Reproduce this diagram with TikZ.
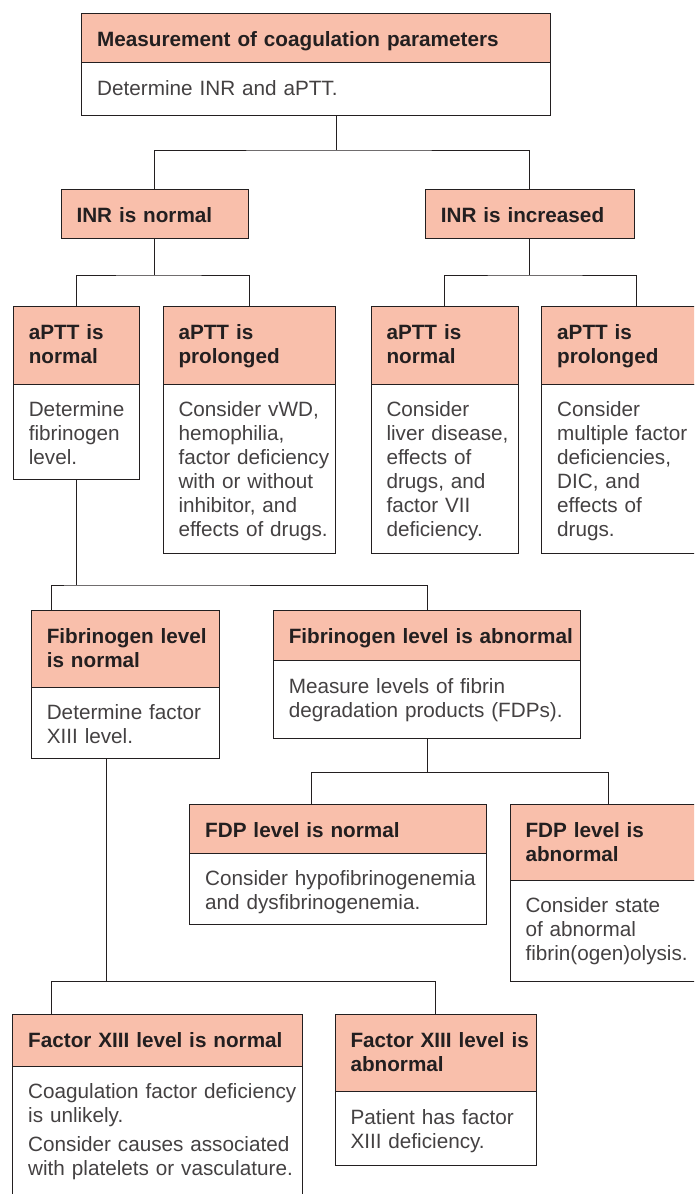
\documentclass[tikz,border=0pt]{standalone}
\usepackage{fontspec}
\setmainfont{Liberation Sans}
\usepackage{xcolor}
\usepackage{tikz}
\usetikzlibrary{positioning}
\definecolor{headfill}{RGB}{249,191,171}
\definecolor{ink}{RGB}{35,31,32}
\tikzstyle{box} = [draw=ink, line width=0.9pt, rectangle, inner sep=0pt, outer sep=0pt, align=left, execute at begin node={\leftskip=15.5pt}]
\tikzstyle{head} = [box, fill=headfill, text=ink, text height=33pt, font=\fontsize{20.7}{24}\selectfont\bfseries]
\tikzstyle{body} = [box, fill=white, text=ink!85, text height=32.5pt, font=\fontsize{20.7}{24}\selectfont]
\tikzstyle{link} = [draw=ink, line width=0.9pt]

\begin{document}
\begin{tikzpicture}[x=1pt,y=-1pt]
	\useasboundingbox (0,0) rectangle (694,1194);
	\clip (0,0) rectangle (694,1194);

	\node [head, anchor=north west, text width=468.6pt, text depth=16.4pt] (coag) at (81.7,13.3) {Measurement of coagulation parameters};
	\node [body, below=0pt of coag, text width=468.6pt, text depth=20.5pt] (coagtext) {Determine INR and aPTT.};

	\node [head, anchor=north west, text width=187.3pt, text depth=16.7pt] (inrnormal) at (61,189) {INR is normal};
	\node [head, anchor=north west, text width=208.7pt, text depth=16.7pt] (inrhigh) at (425.3,189) {INR is increased};

	\node [head, anchor=north west, text width=125.7pt, text depth=44.3pt] (ptta) at (13.3,306.7) {aPTT is\\normal};
	\node [body, below=0pt of ptta, text width=125.7pt, text depth=62.5pt] (pttatext) {Determine\\fibrinogen\\level.};
	\node [head, anchor=north west, text width=172.3pt, text depth=44.3pt] (pttb) at (163,306.7) {aPTT is\\prolonged};
	\node [body, below=0pt of pttb, text width=172.3pt, text depth=136.8pt] (pttbtext) {Consider vWD,\\hemophilia,\\factor deficiency\\with or without\\inhibitor, and\\effects of drugs.};
	\node [head, anchor=north west, text width=147.3pt, text depth=44.3pt] (pttc) at (371,306.7) {aPTT is\\normal};
	\node [body, below=0pt of pttc, text width=147.3pt, text depth=136.8pt] (pttctext) {Consider\\liver disease,\\effects of\\drugs, and\\factor VII\\deficiency.};
	\node [head, anchor=north west, text width=189pt, text depth=44.3pt] (pttd) at (541.7,306.7) {aPTT is\\prolonged};
	\node [body, below=0pt of pttd, text width=189pt, text depth=136.8pt] (pttdtext) {Consider\\multiple factor\\deficiencies,\\DIC, and\\effects of\\drugs.};

	\node [head, anchor=north west, text width=187.7pt, text depth=44.3pt] (fibnormal) at (31.3,610) {Fibrinogen level\\is normal};
	\node [body, below=0pt of fibnormal, text width=187.7pt, text depth=38.2pt] (fibnormaltext) {Determine factor\\XIII level.};
	\node [head, anchor=north west, text width=307.4pt, text depth=17.7pt] (fibabnormal) at (273.3,610) {Fibrinogen level is abnormal};
	\node [body, below=0pt of fibabnormal, text width=307.4pt, text depth=44.8pt] (fibabnormaltext) {Measure levels of fibrin\\degradation products (FDPs).};

	\node [head, anchor=north west, text width=297pt, text depth=15.6pt] (fdpnormal) at (189.7,804.7) {FDP level is normal};
	\node [body, below=0pt of fdpnormal, text width=297pt, text depth=38.9pt] (fdpnormaltext) {Consider hypofibrinogenemia\\and dysfibrinogenemia.};
	\node [head, anchor=north west, text width=196.6pt, text depth=42.3pt] (fdpabnormal) at (510,804.7) {FDP level is\\abnormal};
	\node [body, below=0pt of fdpabnormal, text width=196.6pt, text depth=69.2pt] (fdpabnormaltext) {Consider state\\of abnormal\\fibrin(ogen)olysis.};

	\node [head, anchor=north west, text width=289.6pt, text depth=19pt] (fxnormal) at (12.7,1014) {Factor XIII level is normal};
	\node [body, below=0pt of fxnormal, text width=289.6pt, text depth=117.5pt] (fxnormaltext) {Coagulation factor deficiency\\is unlikely.\\[5pt]Consider causes associated\\with platelets or vasculature.};
	\node [head, anchor=north west, text width=201.7pt, text depth=44.7pt] (fxabnormal) at (335,1014) {Factor XIII level is\\abnormal};
	\node [body, below=0pt of fxabnormal, text width=201.7pt, text depth=40.8pt] (fxabnormaltext) {Patient has factor\\XIII deficiency.};

	\draw [link] ([xshift=20pt]coagtext.south) -- ++(0,34.3) coordinate (split1);
	\draw [link] (inrnormal.north) |- (split1) -| (inrhigh.north);
	\draw [link] (inrnormal.south) -- ++(0,36.3) coordinate (split2);
	\draw [link] (ptta.north) |- (split2) -| (pttb.north);
	\draw [link] (inrhigh.south) -- ++(0,36.3) coordinate (split3);
	\draw [link] (pttc.north) |- (split3) -| (pttd.north);
	\draw [link] (pttatext.south) -- ++(0,106) coordinate (split4);
	\draw [link] ([xshift=20.4pt]fibnormal.north west) |- (split4) -| (fibabnormal.north);
	\draw [link] (fibabnormaltext.south) -- ++(0,34.3) coordinate (split5);
	\draw [link] ([xshift=122pt]fdpnormal.north west) |- (split5) -| (fdpabnormal.north);
	\draw [link] ([xshift=75.4pt]fibnormaltext.south west) -- ++(0,223.7) coordinate (split6);
	\draw [link] ([xshift=39pt]fxnormal.north west) |- (split6) -| (fxabnormal.north);
\end{tikzpicture}
\end{document}
